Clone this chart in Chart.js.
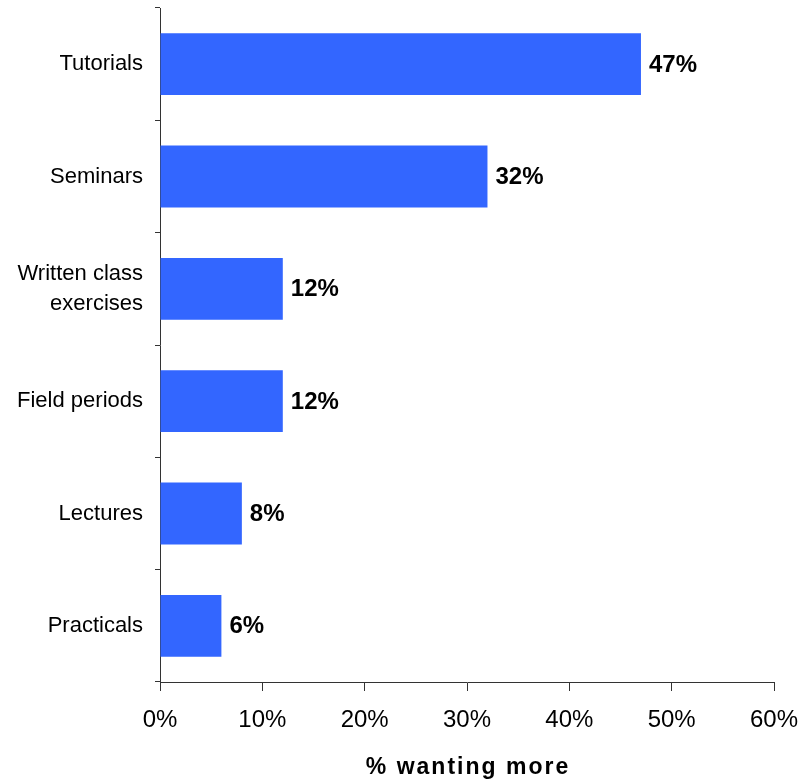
<!DOCTYPE html>
<html>
<head>
<meta charset="utf-8">
<script src="https://cdn.jsdelivr.net/npm/chart.js@4"></script>
<style>
  html, body { margin: 0; padding: 0; background: #fff; }
  #wrap { width: 800px; height: 783px; position: relative; }
</style>
</head>
<body>
<div id="wrap"><canvas id="barChart"></canvas></div>
<script>
// data
const categories = ['Tutorials', 'Seminars', ['Written class', 'exercises'], 'Field periods', 'Lectures', 'Practicals'];
const wantingMore = [47, 32, 12, 12, 8, 6];
const xTicks = [0, 10, 20, 30, 40, 50, 60];
const axisTitle = '% wanting more';

const FONT = '"Liberation Sans", Arial, sans-serif';
const BAR = '#3366ff';

// value labels at the end of each bar
const valueLabels = {
  id: 'valueLabels',
  afterDatasetsDraw(chart) {
    const ctx = chart.ctx;
    const meta = chart.getDatasetMeta(0);
    ctx.save();
    ctx.font = 'bold 24px ' + FONT;
    ctx.fillStyle = '#000';
    ctx.textBaseline = 'middle';
    ctx.textAlign = 'left';
    meta.data.forEach((bar, i) => {
      ctx.fillText(wantingMore[i] + '%', bar.x + 8, bar.y + 1);
    });
    ctx.restore();
  }
};

// axis title drawn by hand (letter spaced)
const xTitle = {
  id: 'xTitle',
  afterDraw(chart) {
    const ctx = chart.ctx;
    const a = chart.chartArea;
    ctx.save();
    ctx.font = 'bold 23px ' + FONT;
    ctx.fillStyle = '#000';
    ctx.textAlign = 'center';
    ctx.textBaseline = 'middle';
    ctx.letterSpacing = '2px';
    ctx.fillText(axisTitle, (a.left + a.right) / 2 + 1, 768);
    ctx.restore();
  }
};

new Chart(document.getElementById('barChart'), {
  type: 'bar',
  data: {
    labels: categories,
    datasets: [{
      data: wantingMore,
      backgroundColor: BAR,
      borderWidth: 0,
      categoryPercentage: 1,
      barPercentage: 0.55
    }]
  },
  options: {
    indexAxis: 'y',
    responsive: true,
    maintainAspectRatio: false,
    animation: false,
    layout: { padding: { top: 8, right: 26, bottom: 0, left: 0 } },
    plugins: { legend: { display: false }, tooltip: { enabled: false } },
    scales: {
      x: {
        min: 0, max: 60,
        afterBuildTicks: s => { s.ticks = xTicks.map(v => ({ value: v })); },
        afterFit: s => { s.height = 101; s.paddingLeft = 0; s.paddingRight = 0; },
        grid: { drawOnChartArea: false, tickLength: 9, color: '#000', tickColor: '#333' },
        border: { color: '#333', width: 1 },
        ticks: { color: '#000', font: { family: FONT, size: 24 }, padding: 15, callback: v => v + '%', maxRotation: 0 }
      },
      y: {
        afterFit: s => { s.width = 160; s.paddingTop = 0; s.paddingBottom = 0; },
        grid: { drawOnChartArea: false, offset: true, tickLength: 5, tickColor: '#333' },
        border: { color: '#333', width: 1 },
        ticks: { color: '#000', font: { family: FONT, size: 22, lineHeight: 1.36 }, padding: 12 }
      }
    }
  },
  plugins: [valueLabels, xTitle]
});
</script>
</body>
</html>
